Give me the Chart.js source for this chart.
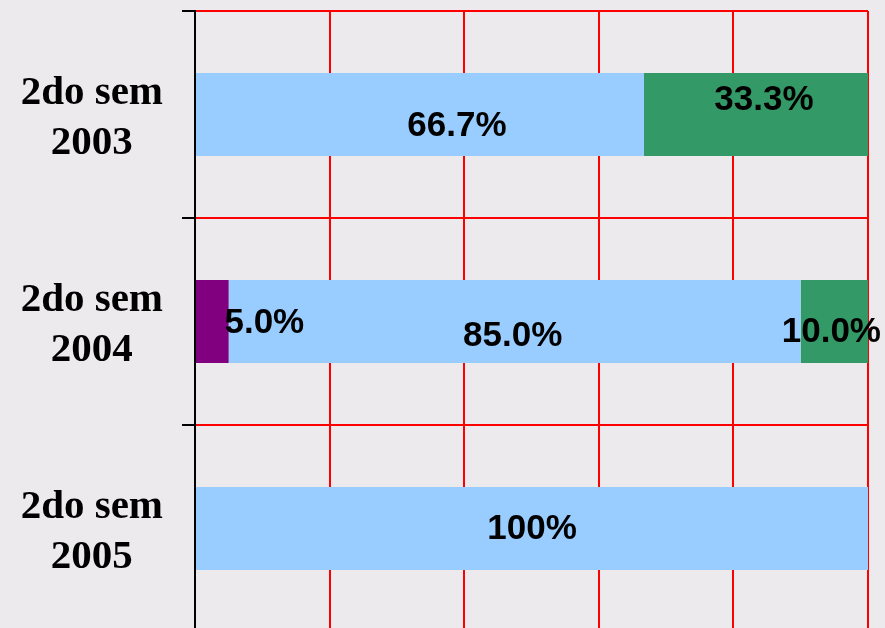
<!DOCTYPE html>
<html>
<head>
<meta charset="utf-8">
<script src="https://cdn.jsdelivr.net/npm/chart.js@4/dist/chart.umd.min.js"></script>
<style>
  html, body { margin: 0; padding: 0; overflow: hidden; background: #eceaec; }
  #wrap { width: 885px; height: 632px; position: relative; }
</style>
</head>
<body>
<div id="wrap"><canvas id="c" width="885" height="632"></canvas></div>
<script>
// ---- data ----
const categories = [["2do sem", "2003"], ["2do sem", "2004"], ["2do sem", "2005"]];
const seriesPurple = [0, 5.0, 0];
const seriesBlue = [66.7, 85.0, 100];
const seriesGreen = [33.3, 10.0, 0];
const labelsPurple = ["", "5.0%", ""];
const labelsBlue = ["66.7%", "85.0%", "100%"];
const labelsGreen = ["33.3%", "10.0%", ""];
const xTicks = [0, 20, 40, 60, 80, 100];

// ---- style (label nudges, px) ----
const nudges = [
  [[0,0],[52,2],[0,0]],
  [[37,12],[-2,15],[0,1]],
  [[8,-14],[-3,11],[0,0]]
];

const segLabels = {
  id: 'segLabels',
  afterDatasetsDraw(chart) {
    const ctx = chart.ctx;
    const texts = [labelsPurple, labelsBlue, labelsGreen];
    ctx.save();
    ctx.fillStyle = '#000';
    ctx.font = 'bold 35px "Liberation Sans", Arial, sans-serif';
    ctx.textAlign = 'center';
    ctx.textBaseline = 'middle';
    chart.data.datasets.forEach((ds, di) => {
      const meta = chart.getDatasetMeta(di);
      meta.data.forEach((bar, i) => {
        const t = texts[di][i];
        if (!t) return;
        const p = bar.getProps(['x', 'base', 'y'], true);
        const cx = (p.x + p.base) / 2 + nudges[di][i][0];
        const cy = p.y + nudges[di][i][1];
        ctx.fillText(t, cx, cy);
      });
    });
    ctx.restore();
  }
};

new Chart(document.getElementById('c'), {
  type: 'bar',
  data: {
    labels: categories,
    datasets: [
      { label: 'A', data: seriesPurple, backgroundColor: '#800080' },
      { label: 'B', data: seriesBlue, backgroundColor: '#99CCFF' },
      { label: 'C', data: seriesGreen, backgroundColor: '#339966' }
    ]
  },
  options: {
    indexAxis: 'y',
    responsive: false,
    animation: false,
    events: [],
    layout: { padding: { left: 20, right: 17, top: 11, bottom: 0 } },
    datasets: { bar: { barPercentage: 0.4, categoryPercentage: 1.0, borderWidth: 0 } },
    plugins: { legend: { display: false }, tooltip: { enabled: false }, title: { display: false } },
    scales: {
      x: {
        stacked: true,
        min: 0, max: 100,
        afterBuildTicks(s) { s.ticks = xTicks.map(v => ({ value: v })); },
        afterFit(s) { s.height = 0; s.paddingLeft = 0; s.paddingRight = 0; },
        ticks: { display: false },
        grid: { color: '#ff0000', lineWidth: 2, drawTicks: false },
        border: { display: false }
      },
      y: {
        stacked: true,
        afterFit(s) { s.width = 175; s.paddingTop = 0; s.paddingBottom = 0; },
        ticks: {
          crossAlign: 'center',
          padding: 19,
          labelOffset: 4,
          color: '#000',
          font: { family: '"Liberation Serif", "Times New Roman", serif', size: 41, weight: 'bold', lineHeight: 1.22 }
        },
        grid: { color: '#ff0000', tickColor: '#000', lineWidth: 2, tickLength: 13, offset: true },
        border: { display: true, color: '#000', width: 2 }
      }
    }
  },
  plugins: [segLabels]
});
</script>
</body>
</html>
